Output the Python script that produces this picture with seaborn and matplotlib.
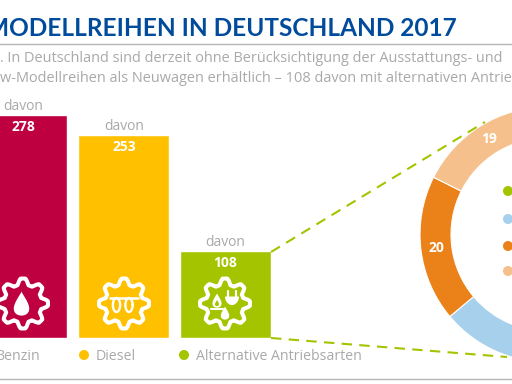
#!/usr/bin/env python3
import numpy as np
import pandas as pd
import matplotlib
matplotlib.use("Agg")
import matplotlib.pyplot as plt
from matplotlib.patches import Circle, Polygon
import seaborn as sns

# Bars
fuel_types = ["Benzin", "Diesel", "Alternative Antriebsarten"]
fuel_counts = [278, 253, 108]
fuel_colors = ["#BE0040", "#FFC000", "#A5C400"]

# Donut, clockwise from 12 o'clock (green and blue split lies off the crop, estimated)
alt_parts = ["Elektro", "Hybrid", "Gas", "Plug-in"]
alt_counts = [35, 34, 20, 19]
alt_colors = ["#A5C400", "#A6D0EC", "#EA8119", "#F5C08C"]

title_text = "MODELLREIHEN IN DEUTSCHLAND 2017"
sub_line1 = ". In Deutschland sind derzeit ohne Berücksichtigung der Ausstattungs- und"
sub_line2 = "w-Modellreihen als Neuwagen erhältlich – 108 davon mit alternativen Antrieb"

GREY = "#A9A9A9"
BLUE = "#004B9B"
W, H = 512, 384

sns.set_theme(style="white")
plt.rcParams["font.family"] = ["Open Sans", "DejaVu Sans"]

fig = plt.figure(figsize=(W / 100, H / 100), dpi=100, facecolor="white")

# bars: baseline at y=338px, 0.802 px per model
ax = fig.add_axes([0, (H - 338) / H, 1, 338 / H])
df = pd.DataFrame({"fuel": fuel_types, "count": fuel_counts})
sns.barplot(data=df, x="fuel", y="count", hue="fuel", palette=fuel_colors,
            width=0.892, saturation=1, legend=False, ax=ax)
ax.set_xlim((0 - 21.5) / 102, (W - 21.5) / 102)
ax.set_ylim(0, 338 / 0.802)
ax.axis("off")

# donut
cx, cy, R = 547.6, 234.5, 127.6
ax_d = fig.add_axes([(cx - R) / W, (H - cy - R) / H, 2 * R / W, 2 * R / H])
_, _, pct_labels = ax_d.pie(alt_counts, colors=alt_colors, startangle=90, counterclock=False,
                            radius=1, wedgeprops=dict(width=0.243, edgecolor="white", linewidth=0.8),
                            autopct=lambda p: f"{p * sum(alt_counts) / 100:.0f}", pctdistance=0.878,
                            textprops=dict(color="white", fontweight="bold", fontsize=10))
# first two wedges have their labels outside the crop
pct_labels[0].set_visible(False)
pct_labels[1].set_visible(False)
ax_d.set_xlim(-1, 1)
ax_d.set_ylim(-1, 1)
ax_d.axis("off")

# overlay in reference pixels (y down)
ov = fig.add_axes([0, 0, 1, 1])
ov.set_xlim(0, W)
ov.set_ylim(H, 0)
ov.axis("off")
ov.patch.set_alpha(0)

ov.text(457, 36, title_text, color=BLUE, fontsize=17.6, fontweight="bold", family="Lato", ha="right", va="baseline")
ov.plot([0, W], [44, 44], color="#B5B5B5", lw=1)
ov.plot([0, W], [379, 379], color="#B5B5B5", lw=1)
ov.text(0, 62, sub_line1, color=GREY, fontsize=10.45, va="baseline")
ov.text(0, 82, sub_line2, color=GREY, fontsize=10.45, va="baseline")

# bar captions
bar_x = [23, 124, 225]
bar_top = [115, 135, 251]
for x, top, n in zip(bar_x, bar_top, fuel_counts):
    ov.text(x, top - 5, "davon", color=GREY, fontsize=10, ha="center", va="baseline")
    ov.text(x, top + 16, str(n), color="white", fontsize=10, fontweight="bold", ha="center", va="baseline")

# legend under the bars
ov.text(40, 360, "Benzin", color=GREY, fontsize=10.2, ha="right", va="baseline")
ov.add_patch(Circle((84, 355), 5, color=fuel_colors[1], lw=0))
ov.text(96, 360, "Diesel", color=GREY, fontsize=10.2, va="baseline")
ov.add_patch(Circle((184, 355), 5, color=fuel_colors[2], lw=0))
ov.text(196, 360, fuel_types[2], color=GREY, fontsize=10.2, va="baseline")

# donut legend dots
for y, c in zip([191, 219, 246, 271], alt_colors):
    ov.add_patch(Circle((508, y), 5, color=c, lw=0))

# dashed connectors
ov.plot([271, 485], [252, 122], color=fuel_colors[2], lw=1.5, dashes=(5, 3.5))
ov.plot([271, 507], [338, 357], color=fuel_colors[2], lw=1.5, dashes=(5, 3.5))


# icons
def gear(x, y):
    t = np.linspace(0, 2 * np.pi, 400)
    r = 22 + 3 * np.clip(1.4 * np.cos(8 * t), -1, 1)
    ov.plot(x + r * np.cos(t), y + r * np.sin(t), color="white", lw=2.9, solid_joinstyle="round")


def drop(x, y, s, color="white"):
    t = np.linspace(0, 2 * np.pi, 60)
    px = x + s * np.sin(t) * np.sin(t / 2) ** 1.5
    py = y - s * 1.1 * np.cos(t)
    ov.add_patch(Polygon(np.column_stack([px, py]), closed=True, color=color, lw=0))


for x in bar_x:
    gear(x, 303.5)

drop(21.5, 303.5, 11)

# diesel coil
ov.plot([110, 138], [298, 298], color="white", lw=1.8)
t = np.linspace(0, 2 * np.pi, 50)
for dx in (116.5, 129):
    ov.plot(dx + 3.6 * np.cos(t), 305 + 7 * np.sin(t), color="white", lw=1.7)

# alternative drives: flame, plug, drop
drop(217, 300.5, 6.5)
drop(217, 303, 2.8, color=fuel_colors[2])
ov.plot([211, 223], [309, 309], color="white", lw=1.5)
a = np.linspace(0, np.pi, 30)
ov.add_patch(Polygon(np.column_stack([232 + 7 * np.cos(a), 296.5 + 8.5 * np.sin(a)]), closed=True, color="white", lw=0))
ov.plot([228, 228], [291, 297], color="white", lw=1.6)
ov.plot([236, 236], [291, 297], color="white", lw=1.6)
drop(225, 313, 6)

fig.savefig("out.png", dpi=100)
